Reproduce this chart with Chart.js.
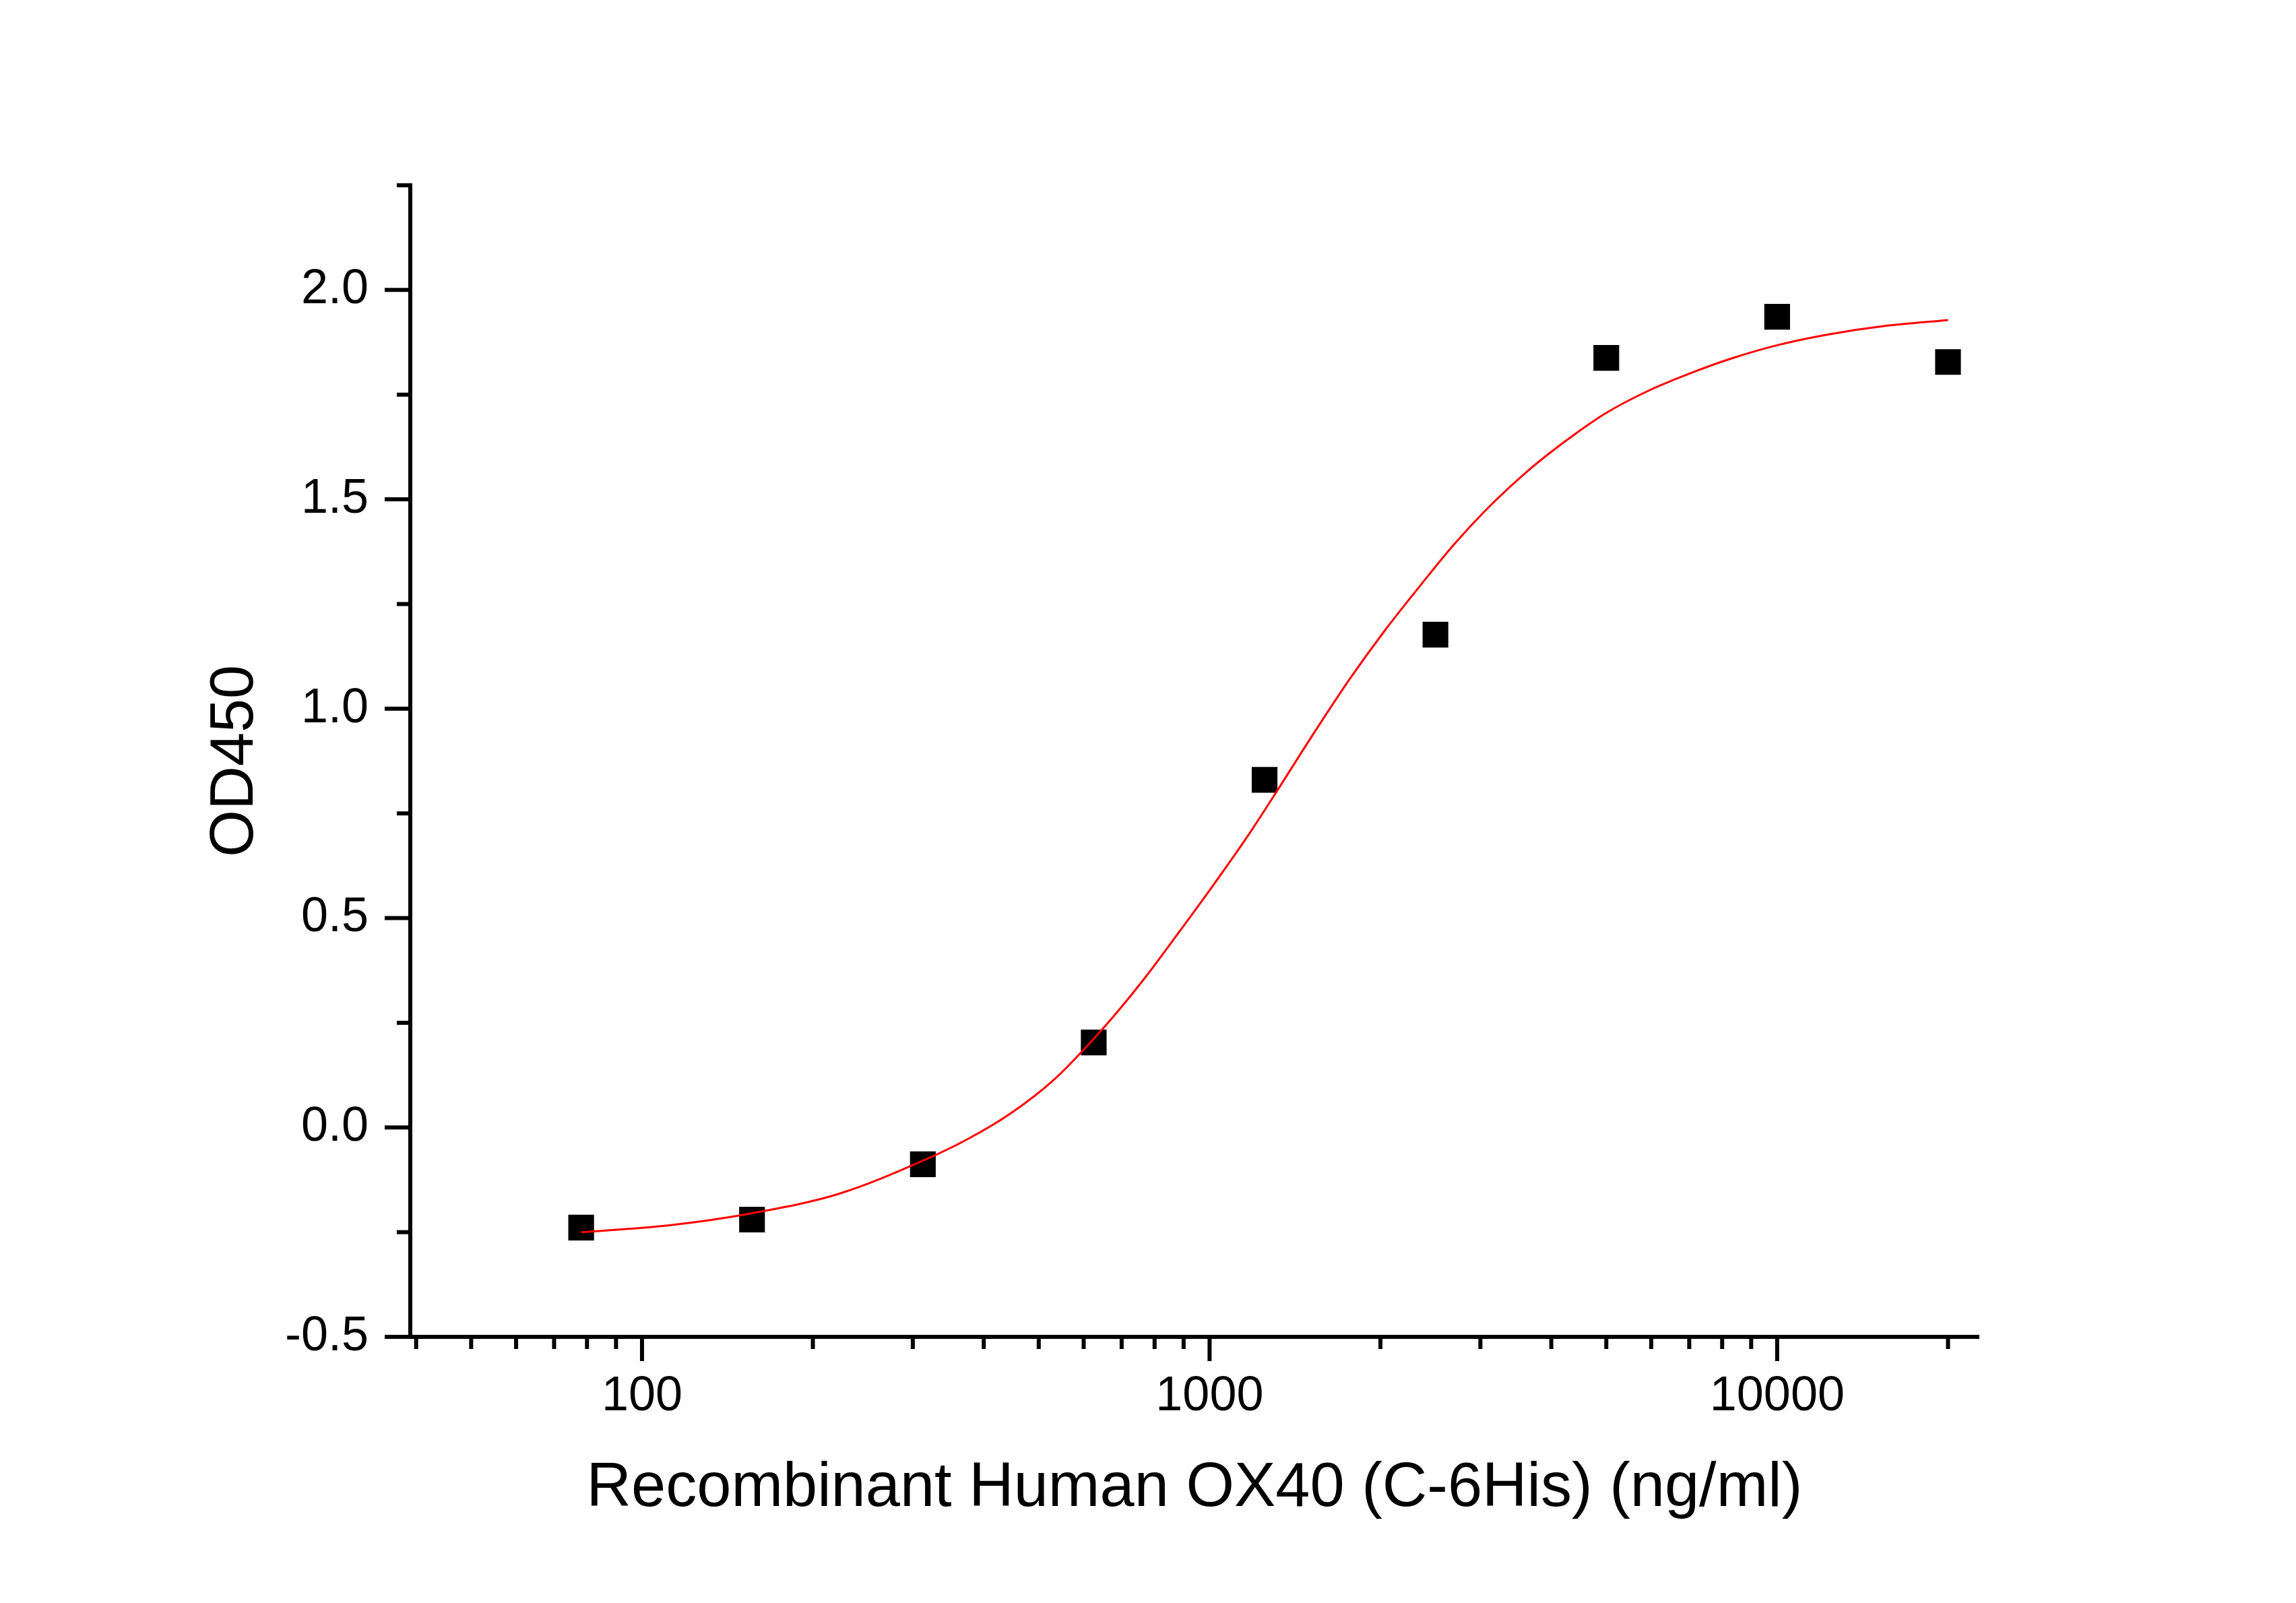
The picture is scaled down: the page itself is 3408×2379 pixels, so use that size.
<!DOCTYPE html>
<html>
<head>
<meta charset="utf-8">
<script src="https://cdn.jsdelivr.net/npm/chart.js@4.4.1/dist/chart.umd.min.js"></script>
<style>
  html, body { margin: 0; padding: 0; background: #fff; }
  #wrap { width: 3408px; height: 2379px; }
</style>
</head>
<body>
<div id="wrap"><canvas id="od450Chart"></canvas></div>
<script>
// measured points (ng/ml vs OD450)
const conc = [78.125, 156.25, 312.5, 625, 1250, 2500, 5000, 10000, 20000];
const od450 = [-0.239, -0.220, -0.088, 0.203, 0.830, 1.177, 1.838, 1.936, 1.828];

// fitted curve
const fitConc = [78.125, 110.9, 155.9, 222.8, 311.9, 375.8, 447.7, 532.7, 625.2, 691.8, 770,
  885.1, 1016.7, 1168.7, 1315.2, 1544, 1774.1, 2039, 2344, 2694, 3096, 3608, 3968,
  4446, 4977, 5902, 6998, 8290, 10000, 12331, 15470, 20000];
const fitOd = [-0.250, -0.234, -0.205, -0.158, -0.080, -0.027, 0.035, 0.115, 0.212, 0.280, 0.358,
  0.468, 0.580, 0.697, 0.804, 0.952, 1.075, 1.188, 1.292, 1.392, 1.480, 1.564, 1.610,
  1.660, 1.705, 1.758, 1.800, 1.836, 1.868, 1.894, 1.914, 1.928];

// axis ticks
const xMajor = [100, 1000, 10000];
const xMinor = [40, 50, 60, 70, 80, 90, 200, 300, 400, 500, 600, 700, 800, 900,
  2000, 3000, 4000, 5000, 6000, 7000, 8000, 9000, 20000];
const yMajor = [-0.5, 0.0, 0.5, 1.0, 1.5, 2.0];
const yMinor = [-0.25, 0.25, 0.75, 1.25, 1.75, 2.25];

const tickMarks = {
  id: 'tickMarks',
  afterDraw(chart) {
    const { ctx, scales: { x, y } } = chart;
    const w = 6;
    ctx.save();
    ctx.strokeStyle = '#000';
    ctx.lineWidth = w;
    ctx.lineCap = 'butt';
    const xBase = x.top + w / 2;
    const drawX = (vals, len) => vals.forEach(v => {
      const px = x.getPixelForValue(v);
      ctx.beginPath();
      ctx.moveTo(px, xBase - 1);
      ctx.lineTo(px, xBase + len);
      ctx.stroke();
    });
    drawX(xMajor, 33);
    drawX(xMinor, 15);
    const yBase = y.right - w / 2;
    const drawY = (vals, len) => vals.forEach(v => {
      const py = y.getPixelForValue(v);
      ctx.beginPath();
      ctx.moveTo(yBase + 1, py);
      ctx.lineTo(yBase - len, py);
      ctx.stroke();
    });
    drawY(yMajor, 35);
    drawY(yMinor, 17);
    ctx.restore();
  }
};

const ctx = document.getElementById('od450Chart').getContext('2d');

new Chart(ctx, {
  type: 'scatter',
  data: {
    datasets: [
      {
        label: 'fit',
        data: fitConc.map((c, i) => ({ x: c, y: fitOd[i] })),
        showLine: true,
        borderColor: '#ff0000',
        borderWidth: 3,
        pointRadius: 0,
        cubicInterpolationMode: 'monotone',
        order: 0
      },
      {
        label: 'OD450',
        data: conc.map((c, i) => ({ x: c, y: od450[i] })),
        pointStyle: 'rect',
        pointRadius: 27,
        pointBorderWidth: 0,
        pointBackgroundColor: '#000',
        order: 1
      }
    ]
  },
  options: {
    responsive: true,
    maintainAspectRatio: false,
    animation: false,
    layout: { padding: { top: 275, right: 471, left: 0, bottom: 0 } },
    plugins: {
      legend: { display: false },
      tooltip: { enabled: false }
    },
    scales: {
      x: {
        type: 'logarithmic',
        min: 39.06,
        max: 22650,
        afterBuildTicks: s => { s.ticks = xMajor.map(v => ({ value: v })); },
        afterFit: s => { s.height = 395; },
        grid: { display: false, drawTicks: false },
        border: { display: true, color: '#000', width: 6 },
        ticks: {
          color: '#000',
          padding: 46,
          maxRotation: 0,
          font: { family: 'Liberation Sans, Arial, sans-serif', size: 72 },
          callback: v => String(v)
        },
        title: {
          display: true,
          text: 'Recombinant Human OX40 (C-6His) (ng/ml)',
          color: '#000',
          font: { family: 'Liberation Sans, Arial, sans-serif', size: 92 },
          padding: { top: 0, bottom: 114 }
        }
      },
      y: {
        min: -0.5,
        max: 2.25,
        afterBuildTicks: s => { s.ticks = yMajor.map(v => ({ value: v })); },
        afterFit: s => { s.width = 609; },
        grid: { display: false, drawTicks: false },
        border: { display: true, color: '#000', width: 6 },
        ticks: {
          color: '#000',
          padding: 62,
          font: { family: 'Liberation Sans, Arial, sans-serif', size: 72 },
          callback: v => v.toFixed(1)
        },
        title: {
          display: true,
          text: 'OD450',
          color: '#000',
          font: { family: 'Liberation Sans, Arial, sans-serif', size: 90 },
          padding: { top: 296, bottom: 0 }
        }
      }
    }
  },
  plugins: [tickMarks]
});
</script>
</body>
</html>
